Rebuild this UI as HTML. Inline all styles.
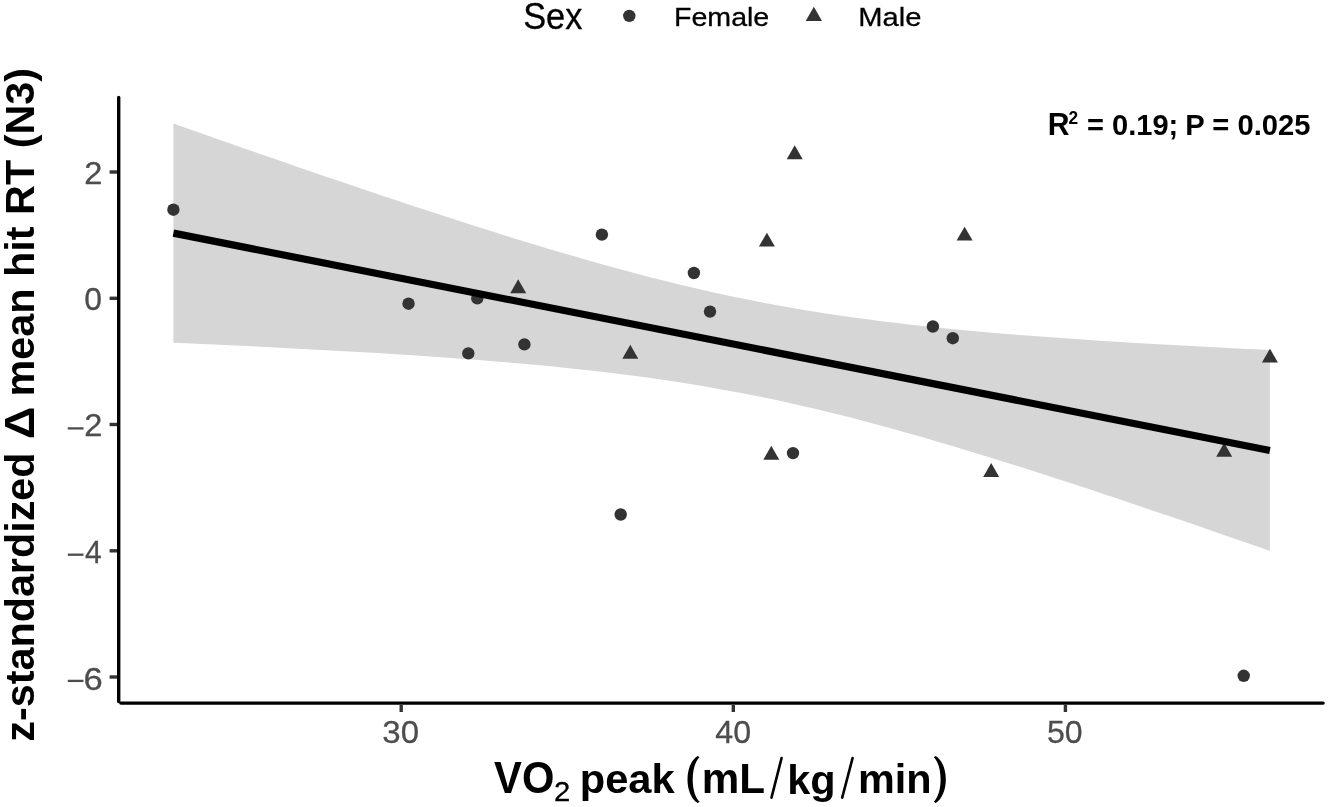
<!DOCTYPE html>
<html><head><meta charset="utf-8"><title>plot</title>
<style>html,body{margin:0;padding:0;background:#fff;overflow:hidden}svg{display:block;will-change:transform}</style>
</head><body>
<svg width="1328" height="807" viewBox="0 0 1328 807" font-family="&quot;Liberation Sans&quot;, sans-serif">
<rect width="1328" height="807" fill="#fff"/>
<path d="M173.40 123.59 L187.28 128.47 L201.16 133.35 L215.04 138.21 L228.92 143.06 L242.80 147.90 L256.68 152.73 L270.56 157.55 L284.44 162.34 L298.32 167.13 L312.20 171.89 L326.08 176.64 L339.96 181.37 L353.84 186.08 L367.72 190.77 L381.60 195.43 L395.48 200.06 L409.36 204.67 L423.24 209.25 L437.12 213.80 L450.99 218.31 L464.87 222.79 L478.75 227.23 L492.63 231.62 L506.51 235.97 L520.39 240.26 L534.27 244.51 L548.15 248.69 L562.03 252.81 L575.91 256.87 L589.79 260.85 L603.67 264.76 L617.55 268.59 L631.43 272.33 L645.31 275.97 L659.19 279.52 L673.07 282.97 L686.95 286.32 L700.83 289.55 L714.71 292.67 L728.59 295.67 L742.47 298.56 L756.35 301.33 L770.23 303.98 L784.11 306.51 L797.99 308.93 L811.87 311.23 L825.75 313.42 L839.63 315.50 L853.51 317.48 L867.39 319.37 L881.27 321.15 L895.15 322.86 L909.03 324.47 L922.91 326.01 L936.79 327.48 L950.67 328.88 L964.55 330.21 L978.43 331.49 L992.31 332.71 L1006.18 333.88 L1020.06 335.00 L1033.94 336.08 L1047.82 337.11 L1061.70 338.11 L1075.58 339.08 L1089.46 340.01 L1103.34 340.91 L1117.22 341.78 L1131.10 342.63 L1144.98 343.45 L1158.86 344.25 L1172.74 345.03 L1186.62 345.79 L1200.50 346.53 L1214.38 347.26 L1228.26 347.96 L1242.14 348.66 L1256.02 349.33 L1269.90 350.00 L1269.90 550.90 L1256.02 546.07 L1242.14 541.24 L1228.26 536.43 L1214.38 531.64 L1200.50 526.86 L1186.62 522.10 L1172.74 517.36 L1158.86 512.63 L1144.98 507.93 L1131.10 503.25 L1117.22 498.60 L1103.34 493.97 L1089.46 489.37 L1075.58 484.80 L1061.70 480.26 L1047.82 475.76 L1033.94 471.29 L1020.06 466.87 L1006.18 462.49 L992.31 458.16 L978.43 453.88 L964.55 449.65 L950.67 445.48 L936.79 441.38 L922.91 437.35 L909.03 433.38 L895.15 429.50 L881.27 425.70 L867.39 421.99 L853.51 418.37 L839.63 414.85 L825.75 411.43 L811.87 408.12 L797.99 404.92 L784.11 401.83 L770.23 398.86 L756.35 396.01 L742.47 393.27 L728.59 390.66 L714.71 388.16 L700.83 385.78 L686.95 383.51 L673.07 381.35 L659.19 379.30 L645.31 377.35 L631.43 375.50 L617.55 373.73 L603.67 372.06 L589.79 370.46 L575.91 368.95 L562.03 367.50 L548.15 366.12 L534.27 364.80 L520.39 363.55 L506.51 362.34 L492.63 361.19 L478.75 360.08 L464.87 359.01 L450.99 357.99 L437.12 357.00 L423.24 356.04 L409.36 355.12 L395.48 354.23 L381.60 353.36 L367.72 352.52 L353.84 351.71 L339.96 350.91 L326.08 350.14 L312.20 349.39 L298.32 348.65 L284.44 347.93 L270.56 347.23 L256.68 346.54 L242.80 345.87 L228.92 345.21 L215.04 344.56 L201.16 343.92 L187.28 343.29 L173.40 342.68 Z" fill="#D6D6D6"/>
<g fill="#333333"><circle cx="173.40" cy="209.70" r="6.20"/><circle cx="408.55" cy="303.70" r="6.20"/><circle cx="477.30" cy="298.30" r="6.20"/><circle cx="468.30" cy="353.40" r="6.20"/><circle cx="524.40" cy="344.40" r="6.20"/><circle cx="601.90" cy="234.60" r="6.20"/><circle cx="620.70" cy="514.50" r="6.20"/><circle cx="693.90" cy="273.00" r="6.20"/><circle cx="710.00" cy="311.60" r="6.20"/><circle cx="793.00" cy="453.10" r="6.20"/><circle cx="932.90" cy="326.50" r="6.20"/><circle cx="952.80" cy="338.20" r="6.20"/><circle cx="1243.70" cy="675.80" r="6.20"/><path d="M518.20 279.36 L526.20 293.22 L510.20 293.22 Z"/><path d="M630.30 344.86 L638.30 358.72 L622.30 358.72 Z"/><path d="M766.90 232.66 L774.90 246.52 L758.90 246.52 Z"/><path d="M794.70 145.36 L802.70 159.22 L786.70 159.22 Z"/><path d="M771.30 445.86 L779.30 459.72 L763.30 459.72 Z"/><path d="M964.60 226.76 L972.60 240.62 L956.60 240.62 Z"/><path d="M991.20 463.06 L999.20 476.92 L983.20 476.92 Z"/><path d="M1224.20 442.86 L1232.20 456.72 L1216.20 456.72 Z"/><path d="M1269.90 348.66 L1277.90 362.52 L1261.90 362.52 Z"/></g>
<line x1="173.40" y1="233.13" x2="1269.90" y2="450.45" stroke="#000" stroke-width="7.2"/>
<g stroke="#000" stroke-width="3.4" stroke-linecap="round">
<line x1="118.7" y1="97.4" x2="118.7" y2="701.5"/>
<line x1="120.8" y1="703.1" x2="1323.1" y2="703.1"/>
</g>
<g stroke="#333333" stroke-width="3.4"><line x1="109.6" y1="172.00" x2="117" y2="172.00"/><line x1="109.6" y1="298.30" x2="117" y2="298.30"/><line x1="109.6" y1="424.50" x2="117" y2="424.50"/><line x1="109.6" y1="550.80" x2="117" y2="550.80"/><line x1="109.6" y1="677.00" x2="117" y2="677.00"/><line x1="401.20" y1="704.8" x2="401.20" y2="712"/><line x1="733.30" y1="704.8" x2="733.30" y2="712"/><line x1="1065.40" y1="704.8" x2="1065.40" y2="712"/></g>
<text transform="matrix(0.32609 0 0 0.31143 84.170 183.700)" font-size="100" font-weight="normal" fill="#4D4D4D" stroke="#4D4D4D" stroke-width="0.94" stroke-linejoin="round" xml:space="preserve">2</text>
<text transform="matrix(0.31875 0 0 0.30704 84.225 310.193)" font-size="100" font-weight="normal" fill="#4D4D4D" stroke="#4D4D4D" stroke-width="0.96" stroke-linejoin="round" xml:space="preserve">0</text>
<text transform="matrix(0.32609 0 0 0.30714 84.170 435.500)" font-size="100" font-weight="normal" fill="#4D4D4D" stroke="#4D4D4D" stroke-width="0.95" stroke-linejoin="round" xml:space="preserve">2</text>
<text transform="matrix(0.30000 0 0 0.32059 84.900 562.721)" font-size="100" font-weight="normal" fill="#4D4D4D" stroke="#4D4D4D" stroke-width="0.97" stroke-linejoin="round" xml:space="preserve">4</text>
<text transform="matrix(0.34565 0 0 0.32113 83.472 689.579)" font-size="100" font-weight="normal" fill="#4D4D4D" stroke="#4D4D4D" stroke-width="0.90" stroke-linejoin="round" xml:space="preserve">6</text>
<rect x="67.8" y="427.25" width="15.7" height="2.3" fill="#4D4D4D"/>
<rect x="67.8" y="553.55" width="15.7" height="2.3" fill="#4D4D4D"/>
<rect x="67.8" y="679.75" width="15.7" height="2.3" fill="#4D4D4D"/>
<text transform="matrix(0.33010 0 0 0.30704 382.280 742.793)" font-size="100" font-weight="normal" fill="#4D4D4D" stroke="#4D4D4D" stroke-width="0.94" stroke-linejoin="round" xml:space="preserve">30</text>
<text transform="matrix(0.32190 0 0 0.30704 715.356 742.793)" font-size="100" font-weight="normal" fill="#4D4D4D" stroke="#4D4D4D" stroke-width="0.95" stroke-linejoin="round" xml:space="preserve">40</text>
<text transform="matrix(0.32136 0 0 0.30704 1046.915 742.793)" font-size="100" font-weight="normal" fill="#4D4D4D" stroke="#4D4D4D" stroke-width="0.96" stroke-linejoin="round" xml:space="preserve">50</text>
<text transform="matrix(0.41727 0 0 0.43944 494.083 793.361)" font-size="100" font-weight="bold" fill="#000" xml:space="preserve">VO</text>
<text transform="matrix(0.29348 0 0 0.27857 554.033 800.900)" font-size="100" font-weight="normal" fill="#000" stroke="#000" stroke-width="1.05" stroke-linejoin="round" xml:space="preserve">2</text>
<text transform="matrix(0.41674 0 0 0.41170 579.683 793.354)" font-size="100" font-weight="bold" fill="#000" xml:space="preserve">peak</text>
<text transform="matrix(0.42214 0 0 0.42464 701.745 793.000)" font-size="100" font-weight="bold" fill="#000" xml:space="preserve">mL</text>
<text transform="matrix(0.41456 0 0 0.41383 787.298 793.710)" font-size="100" font-weight="bold" fill="#000" xml:space="preserve">kg</text>
<text transform="matrix(0.41394 0 0 0.40685 857.902 793.000)" font-size="100" font-weight="bold" fill="#000" xml:space="preserve">min</text>
<path d="M697.6 756.0 C684.1 764.5 684.1 794.5 697.6 803.0 L699.6 801.8 C690.4 793.5 690.4 765.5 699.6 757.2 Z" fill="#000"/>
<path d="M935.7 756.0 C949.2 764.5 949.2 794.5 935.7 803.0 L933.7 801.8 C942.9 793.5 942.9 765.5 933.7 757.2 Z" fill="#000"/>
<g stroke="#000" stroke-width="2.6" fill="none" stroke-linecap="round">
<path d="M781.6 758 L771.5 797.6"/>
<path d="M852.6 758 L842.2 797.6"/>
</g>
<text transform="matrix(0 -0.41335 0.40270 0 34.397 741.753)" font-size="100" font-weight="bold" fill="#000">z-standardized</text>
<text transform="matrix(0 -0.45156 0.42899 0 34.300 438.906)" font-size="100" font-weight="bold" fill="#000">Δ</text>
<text transform="matrix(0 -0.41354 0.40532 0 34.488 396.395)" font-size="100" font-weight="bold" fill="#000">mean hit RT (N3)</text>
<text transform="matrix(0.30159 0 0 0.30870 1047.689 134.900)" font-size="100" font-weight="bold" fill="#000" xml:space="preserve">R</text>
<text transform="matrix(0.17347 0 0 0.18714 1068.580 123.500)" font-size="100" font-weight="bold" fill="#000" xml:space="preserve">2</text>
<text transform="matrix(0.29070 0 0 0.29942 1086.937 134.559)" font-size="100" font-weight="bold" fill="#000" xml:space="preserve">= 0.19;</text>
<text transform="matrix(0.29212 0 0 0.30282 1185.255 134.797)" font-size="100" font-weight="bold" fill="#000" xml:space="preserve">P = 0.025</text>
<text transform="matrix(0.34337 0 0 0.36620 523.183 29.034)" font-size="100" font-weight="normal" fill="#000" stroke="#000" stroke-width="0.85" stroke-linejoin="round" xml:space="preserve">Sex</text>
<text transform="matrix(0.28567 0 0 0.26216 674.015 25.838)" font-size="100" font-weight="normal" fill="#000" stroke="#000" stroke-width="1.10" stroke-linejoin="round" xml:space="preserve">Female</text>
<text transform="matrix(0.29118 0 0 0.26622 858.271 26.234)" font-size="100" font-weight="normal" fill="#000" stroke="#000" stroke-width="1.08" stroke-linejoin="round" xml:space="preserve">Male</text>
<circle cx="629.3" cy="15.9" r="6.2" fill="#333333"/>
<path d="M813.85 6.79 L822.00 20.90 L805.70 20.90 Z" fill="#333333"/>
</svg>
</body></html>
